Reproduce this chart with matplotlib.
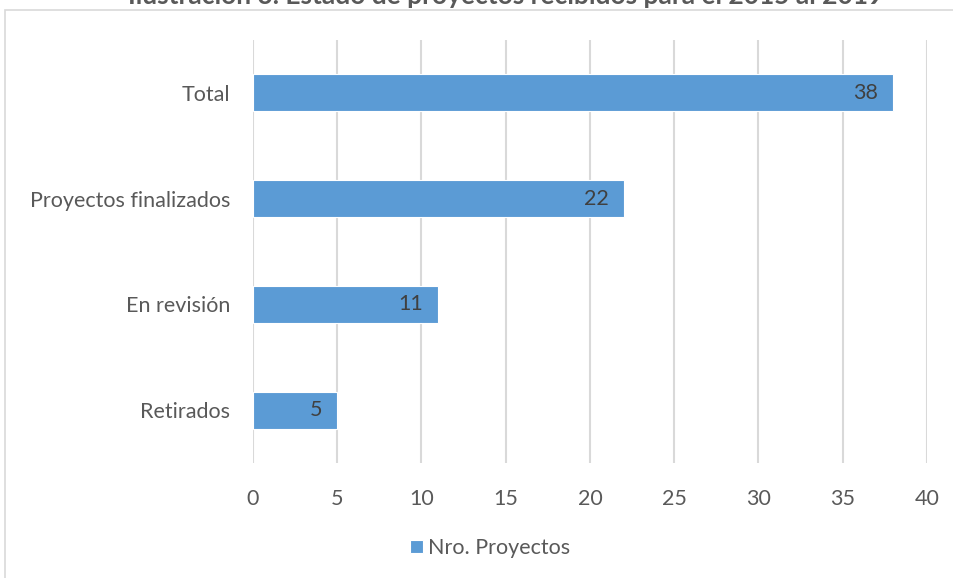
import matplotlib.pyplot as plt
from matplotlib.patches import Rectangle

# datos del gráfico
categorias = ["Retirados", "En revisión", "Proyectos finalizados", "Total"]
proyectos = [5, 11, 22, 38]
ticks_x = [0, 5, 10, 15, 20, 25, 30, 35, 40]
serie = "Nro. Proyectos"
titulo = "Ilustración 3. Estado de proyectos recibidos para el 2015 al 2019"

plt.rcParams['font.family'] = ['Lato', 'DejaVu Sans']

fig = plt.figure(figsize=(9.54, 5.78), dpi=100)
ax = fig.add_axes([253 / 954, 1 - 463 / 578, (927 - 253) / 954, (463 - 40) / 578])

# borde del área del gráfico
fig.patches.append(Rectangle((5 / 954, -0.1), 1.1, 1 - 10 / 578 + 0.1,
                             transform=fig.transFigure, fill=False,
                             edgecolor='#d9d9d9', linewidth=1.2))

barras = ax.barh(categorias, proyectos, height=0.35, color='#5b9bd5',
                 edgecolor='white', linewidth=0.8, zorder=3)
for b, v in zip(barras, proyectos):
    ax.text(b.get_width() - 0.9, b.get_y() + b.get_height() / 2, str(v),
            ha='right', va='center', fontsize=15.5, color='#404040', zorder=4)

ax.set_xlim(0, 40)
ax.set_ylim(-0.5, 3.5)
ax.set_xticks(ticks_x)
ax.grid(axis='x', color='#d9d9d9', linewidth=1.5, zorder=0)
ax.set_axisbelow(True)
for s in ax.spines.values():
    s.set_visible(False)
ax.tick_params(axis='both', length=0, labelsize=15.5, labelcolor='#595959')
ax.tick_params(axis='x', pad=19)
ax.tick_params(axis='y', pad=16.5)

# el título queda cortado arriba, igual que en la imagen original
fig.text(0.53, 1 - 4 / 578, titulo, ha='center', va='baseline', fontsize=19,
         fontweight='bold', color='#595959')

ax.legend([barras[0]], [serie], loc='center', bbox_to_anchor=(490 / 954, 1 - 548 / 578),
          bbox_transform=fig.transFigure, frameon=False, fontsize=15.5,
          handlelength=0.6, handleheight=0.6, handletextpad=0.2,
          labelcolor='#595959')

fig.savefig("out.png", dpi=100)
